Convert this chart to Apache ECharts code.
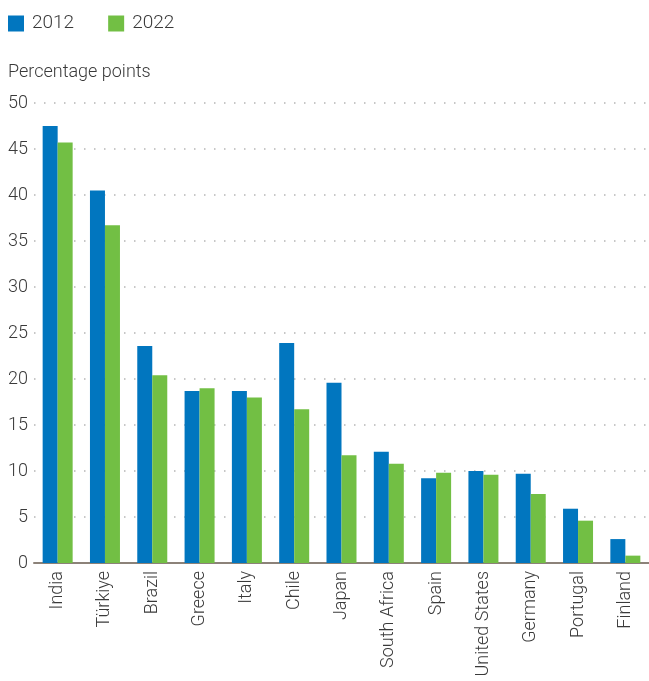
<!DOCTYPE html>
<html>
<head>
<meta charset="utf-8">
<script src="https://cdn.jsdelivr.net/npm/echarts@6/dist/echarts.min.js"></script>
<style>
  html, body { margin: 0; padding: 0; background: #fff; }
  #chart { width: 649px; height: 681px; }
</style>
</head>
<body>
<div id="chart"></div>
<script>
// Countries along the x axis
const categories = ['India', 'Türkiye', 'Brazil', 'Greece', 'Italy', 'Chile', 'Japan',
  'South Africa', 'Spain', 'United States', 'Germany', 'Portugal', 'Finland'];
// Values in percentage points
const values2012 = [47.5, 40.5, 23.6, 18.7, 18.7, 23.9, 19.6, 12.1, 9.2, 10.0, 9.7, 5.9, 2.6];
const values2022 = [45.7, 36.7, 20.4, 19.0, 18.0, 16.7, 11.7, 10.8, 9.8, 9.6, 7.5, 4.6, 0.8];
const seriesNames = ['2012', '2022'];
const yTicks = { min: 0, max: 50, interval: 5 };

const FONT = 'Roboto';
const WEIGHT = 300;
const TEXT = '#3a3a3a';

const chart = echarts.init(document.getElementById('chart'), null, { renderer: 'canvas' });
chart.setOption({
  animation: false,
  textStyle: { fontFamily: FONT, fontWeight: WEIGHT },
  legend: {
    left: 3, top: 9,
    itemWidth: 16, itemHeight: 16, itemGap: 34,
    icon: 'rect',
    textStyle: { fontSize: 19, color: TEXT, fontFamily: FONT, fontWeight: WEIGHT, padding: [0, 0, 0, 3] },
    data: seriesNames
  },
  title: {
    text: 'Percentage points',
    left: 3, top: 58,
    textStyle: { fontSize: 18, fontWeight: WEIGHT, color: TEXT, fontFamily: FONT }
  },
  grid: { left: 34, right: 0, top: 103, bottom: 118, containLabel: false },
  xAxis: {
    type: 'category',
    data: categories,
    axisLine: { lineStyle: { color: '#8c8279', width: 2 } },
    axisTick: { show: false },
    axisLabel: { rotate: 90, fontSize: 18, color: TEXT, margin: 8, interval: 0,
      fontFamily: FONT, fontWeight: WEIGHT }
  },
  yAxis: {
    type: 'value',
    min: yTicks.min, max: yTicks.max, interval: yTicks.interval,
    axisLine: { show: false },
    axisTick: { show: false },
    axisLabel: { fontSize: 18, color: TEXT, margin: 6, fontFamily: FONT, fontWeight: WEIGHT },
    splitLine: { lineStyle: { color: '#b5b5b5', type: [1.5, 8.5], width: 1.5 } }
  },
  series: [
    { name: seriesNames[0], type: 'bar', data: values2012, barWidth: 15, barGap: '0%',
      itemStyle: { color: '#0176BF' } },
    { name: seriesNames[1], type: 'bar', data: values2022, barWidth: 15, barGap: '0%',
      itemStyle: { color: '#72BF44' } }
  ]
});
</script>
</body>
</html>
